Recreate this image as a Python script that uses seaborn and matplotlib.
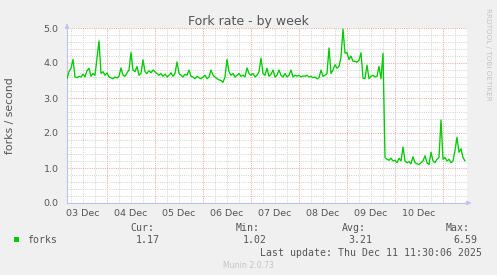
import numpy as np
import pandas as pd
import matplotlib
matplotlib.use("Agg")
import matplotlib.pyplot as plt
from matplotlib.patches import Rectangle
import seaborn as sns

# ---- data (hourly samples, hours since 03 Dec 00:00) ----
start_hour = 4
forks = [
    3.55, 3.75, 3.85, 4.10, 3.60, 3.58, 3.62, 3.60, 3.68, 3.60,
    3.78, 3.85, 3.62, 3.70, 3.65, 4.14, 4.63, 3.70, 3.75, 3.65,
    3.72, 3.60, 3.58, 3.55, 3.60, 3.57, 3.62, 3.86, 3.65, 3.62,
    3.72, 3.80, 4.30, 3.80, 3.75, 3.90, 3.65, 3.70, 4.09, 3.75,
    3.70, 3.78, 3.72, 3.80, 3.75, 3.70, 3.65, 3.70, 3.62, 3.68,
    3.60, 3.65, 3.72, 3.62, 3.70, 4.03, 3.70, 3.65, 3.60, 3.68,
    3.65, 3.80, 3.62, 3.60, 3.55, 3.62, 3.58, 3.55, 3.60, 3.65,
    3.55, 3.60, 3.80, 3.65, 3.60, 3.55, 3.52, 3.50, 3.45, 3.60,
    4.10, 3.75, 3.65, 3.70, 3.60, 3.65, 3.70, 3.62, 3.65, 3.60,
    3.86, 3.70, 3.65, 3.70, 3.60, 3.65, 3.75, 4.14, 3.70, 3.65,
    3.85, 3.62, 3.68, 3.80, 3.60, 3.65, 3.80, 3.65, 3.60, 3.70,
    3.60, 3.65, 3.80, 3.60, 3.65, 3.62, 3.65, 3.60, 3.63, 3.62,
    3.65, 3.60, 3.62, 3.58, 3.60, 3.55, 3.58, 3.80, 3.62, 3.65,
    3.70, 4.43, 3.70, 3.80, 3.95, 3.85, 3.90, 4.17, 4.97, 4.28,
    4.30, 4.10, 4.20, 4.05, 4.05, 4.02, 4.08, 4.29, 3.57, 3.55,
    3.94, 3.55, 3.62, 3.65, 3.60, 3.62, 3.90, 3.55, 4.28, 1.30,
    1.25, 1.22, 1.28, 1.20, 1.22, 1.15, 1.28, 1.20, 1.60, 1.20,
    1.15, 1.18, 1.12, 1.32, 1.15, 1.12, 1.10, 1.15, 1.20, 1.35,
    1.15, 1.10, 1.45, 1.20, 1.15, 1.25, 1.30, 2.37, 1.25, 1.30,
    1.20, 1.25, 1.15, 1.20, 1.50, 1.88, 1.45, 1.55, 1.30, 1.20,
]
hours = list(range(start_hour, start_hour + len(forks)))
day_labels = ["03 Dec", "04 Dec", "05 Dec", "06 Dec", "07 Dec", "08 Dec", "09 Dec", "10 Dec"]
y_ticks = [0.0, 1.0, 2.0, 3.0, 4.0, 5.0]
stat_names = ["Cur:", "Min:", "Avg:", "Max:"]
stat_values = ["1.17", "1.02", "3.21", "6.59"]

df = pd.DataFrame({"hour": hours, "forks": forks})

W, H = 497, 275
BG = "#F0F0F0"
TXT = "#555555"
RED = "#EBA8A8"
GRAY = "#D4D4D4"
AXIS = "#C0C0F2"

sns.set_theme(style="white")
plt.rcParams["font.family"] = ["DejaVu Sans"]

fig = plt.figure(figsize=(W / 100, H / 100), dpi=100, facecolor=BG)
L, R, T, B = 67, 467, 28, 203
ax = fig.add_axes([L / W, 1 - B / H, (R - L) / W, (B - T) / H])
ax.set_facecolor("white")

xmin, xmax = 4, 204
ax.set_xlim(xmin, xmax)
ax.set_ylim(0, 5.0)

# grid
for h in range(6, xmax + 1, 6):
    col = RED if h % 24 == 0 else GRAY
    ax.axvline(h, color=col, lw=0.72, ls=(0, (1, 1.2)), zorder=1)
for v in np.arange(0.2, 5.01, 0.2):
    v = round(v, 1)
    col = RED if abs(v - round(v)) < 1e-6 else GRAY
    ax.axhline(v, color=col, lw=0.72, ls=(0, (1, 1.2)), zorder=1)

sns.lineplot(data=df, x="hour", y="forks", ax=ax, color="#00CC00", lw=0.95, zorder=3)

ax.set_xlabel("")
ax.set_ylabel("")

# spines
for s in ["top", "right"]:
    ax.spines[s].set_visible(False)
for s in ["left", "bottom"]:
    ax.spines[s].set_color(AXIS)
    ax.spines[s].set_linewidth(0.8)

# ticks
day_bounds = [24 * k for k in range(1, 9)]
ax.set_xticks(day_bounds)
ax.set_xticklabels([""] * len(day_bounds))
ax.tick_params(axis="x", which="major", length=2.5, width=0.8, color=RED, direction="out")
centers = [12 + 24 * k for k in range(len(day_labels))]
ax.set_xticks(centers, minor=True)
ax.set_xticklabels(day_labels, minor=True)
ax.tick_params(axis="x", which="minor", length=0, pad=4, labelsize=6.8, labelcolor=TXT)

ax.set_yticks(y_ticks)
ax.set_yticklabels([f"{v:.1f}" for v in y_ticks])
ax.tick_params(axis="y", length=2, width=0.8, color=RED, pad=4, labelsize=6.8, labelcolor=TXT)

# axis arrows
ax.annotate("", xy=(L / W, 1 - 21 / H), xytext=(L / W, 1 - 28 / H),
            xycoords="figure fraction", arrowprops=dict(arrowstyle="-|>", color=AXIS, lw=0.8,
                                                       mutation_scale=6))
ax.annotate("", xy=(474 / W, 1 - B / H), xytext=(467 / W, 1 - B / H),
            xycoords="figure fraction", arrowprops=dict(arrowstyle="-|>", color=AXIS, lw=0.8,
                                                       mutation_scale=6))

def fx(px):
    return px / W

def fy(py):
    return 1 - py / H

fig.text(fx(248.5), fy(24.5), "Fork rate - by week", ha="center", va="baseline",
         fontsize=9, color=TXT)
fig.text(fx(10), fy(115.5), "forks / second", rotation=90, ha="center", va="center",
         fontsize=7.8, color=TXT)
fig.text(fx(488), fy(8), "RRDTOOL / TOBI OETIKER", rotation=270, ha="center", va="top",
         fontsize=5.2, color="#C4C4C4")

mono = "DejaVu Sans Mono"
fig.patches.append(Rectangle((fx(14), fy(242)), 5 / W, 5 / H, transform=fig.transFigure,
                             facecolor="#00CC00", edgecolor="none"))
fig.text(fx(27), fy(243), "forks", ha="left", va="baseline", fontsize=7.1,
         family=mono, color=TXT)
hdr_right = [154, 260, 366, 470]
val_right = [160, 267, 372, 477]
for n, v, hx, vx in zip(stat_names, stat_values, hdr_right, val_right):
    fig.text(fx(hx), fy(231), n, ha="right", va="baseline", fontsize=7.1, family=mono, color=TXT)
    fig.text(fx(vx), fy(243), v, ha="right", va="baseline", fontsize=7.1, family=mono, color=TXT)
fig.text(fx(482), fy(256), "Last update: Thu Dec 11 11:30:06 2025", ha="right", va="baseline",
         fontsize=7.1, family=mono, color=TXT)
fig.text(fx(248), fy(267.5), "Munin 2.0.73", ha="center", va="baseline", fontsize=5.6,
         color="#C4C4C4")

fig.savefig("out.png", dpi=100, facecolor=BG)
